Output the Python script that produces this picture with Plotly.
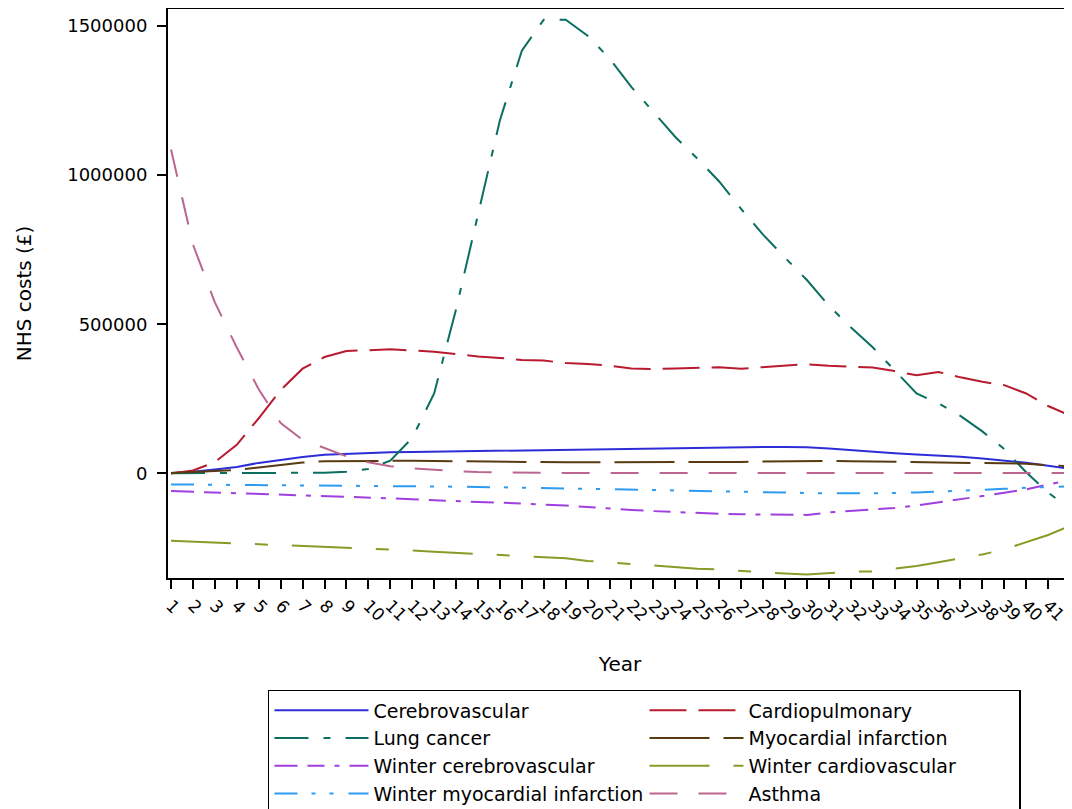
import plotly.graph_objects as go

years = list(range(1, 43))
tick_labels = [str(y) for y in years]

cerebrovascular = [2000, 5500, 13000, 22000, 35500, 46500, 55500, 63000, 66500, 69000,
                   71000, 72000, 73000, 74000, 75000, 76000, 77000, 78000, 79500, 81000,
                   82000, 83000, 84000, 85500, 87000, 88000, 88500, 88500, 88500, 88000,
                   84000, 78000, 73500, 68000, 64000, 61000, 56000, 50000, 44000, 36000,
                   26000, 16000]
cardiopulmonary = [0, 10000, 38000, 96000, 185000, 279000, 351000, 390000, 410000, 412000,
                   416000, 412000, 408000, 400000, 392000, 387000, 380000, 378000, 370000, 367000,
                   361000, 352000, 350000, 352000, 355000, 356000, 351000, 356000, 362000, 366000,
                   361000, 359000, 355000, 343000, 329000, 340000, 322000, 307000, 296000, 268000,
                   226000, 194000]
lung_cancer = [1000, 1000, 1000, 1000, 1000, 1000, 1500, 2500, 6000, 15000,
               43000, 119000, 268000, 550000, 867000, 1183000, 1416000, 1520000, 1520000, 1466000,
               1390000, 1294000, 1211000, 1127000, 1055000, 978000, 886000, 800000, 723000, 648000,
               562000, 490000, 423000, 346000, 268000, 235000, 193000, 141000, 82000, 4000,
               -64000, -118000]
myocardial = [2000, 5500, 7700, 12000, 20000, 29000, 36600, 41000, 42000, 43000,
              44000, 43000, 42000, 41000, 40000, 40000, 39000, 39000, 37600, 37600,
              37600, 37600, 37000, 37000, 37000, 38800, 38800, 40000, 41000, 42000,
              42000, 41000, 40000, 38800, 38800, 37600, 37600, 36500, 35000, 33000,
              28000, 24000]
winter_cerebrovascular = [-58800, -61000, -64000, -66500, -68800, -71000, -73000, -75400, -77600, -81000,
                          -83000, -86500, -90000, -93000, -95500, -97500, -100000, -104000, -107500, -113000,
                          -118000, -122000, -126000, -129500, -133500, -135000, -136500, -137500, -138600, -138600,
                          -130500, -125800, -120900, -115300, -107600, -97500, -86500, -75400, -64300, -53200,
                          -36600, -22200]
winter_cardiovascular = [-225000, -227800, -230500, -233500, -236300, -239500, -243000, -246600, -249300, -251500,
                         -254300, -258000, -262000, -265500, -269300, -271500, -274500, -279000, -284000, -292700,
                         -298300, -302700, -308000, -315000, -318700, -321500, -326500, -330400, -335000, -338000,
                         -332700, -329000, -328000, -319300, -309600, -297500, -284000, -271000, -254300, -231000,
                         -206000, -175000]
winter_mi = [-36600, -37000, -37400, -37800, -38200, -38700, -39200, -39700, -40100, -40500,
             -41400, -42300, -43200, -44100, -45000, -46000, -47000, -48000, -49000, -50000,
             -51000, -53000, -55000, -57000, -58500, -60000, -61500, -63000, -64500, -65500,
             -66500, -66500, -66500, -65500, -63500, -61000, -58000, -55000, -51500, -48000,
             -45000, -43000]
asthma = [1085000, 767000, 573000, 422000, 282000, 169000, 113000, 85000, 57600, 37600,
          24400, 17700, 12000, 7800, 5000, 3500, 2500, 2000, 2000, 2000,
          2000, 2000, 2000, 2000, 2000, 2000, 2000, 2000, 2000, 2000,
          2000, 2000, 2000, 2000, 2000, 2000, 2000, 2000, 2000, 2000,
          2000, 2000]

series = [
    ("Cerebrovascular", cerebrovascular, "#2d2dd8", "solid"),
    ("Cardiopulmonary", cardiopulmonary, "#b81a2e", "37px,12px"),
    ("Lung cancer", lung_cancer, "#0a6e60", "34px,15px,7px,15px"),
    ("Myocardial infarction", myocardial, "#5a3a10", "60px,14px"),
    ("Winter cerebrovascular", winter_cerebrovascular, "#9f3fe0", "23px,10px,17px,10px,5px,10px"),
    ("Winter cardiovascular", winter_cardiovascular, "#8b9a26", "60px,24px,13px,24px"),
    ("Winter myocardial infarction", winter_mi, "#2d9bf0", "23px,14px,4px,14px,4px,15px"),
    ("Asthma", asthma, "#bb6590", "28px,21px"),
]

fig = go.Figure()
for name, vals, color, dash in series:
    fig.add_trace(go.Scatter(x=years, y=vals, mode="lines", name=name,
                             line=dict(color=color, width=2, dash=dash)))

FONT = "DejaVu Sans"
# The page body has an 8px margin, so the figure is sized to the remaining viewport.
fig.update_layout(
    width=1064, height=801,
    template="none",
    paper_bgcolor="white", plot_bgcolor="white",
    margin=dict(l=160, r=0, t=1, b=231, pad=0, autoexpand=False),
    font=dict(family=FONT, color="black", size=17),
    showlegend=True,
    legend=dict(
        orientation="h", x=0.1106, xanchor="left", y=-0.1968, yanchor="top",
        entrywidth=266, entrywidthmode="pixels",
        font=dict(family=FONT, size=19, color="black"),
        bordercolor="black", borderwidth=1.5, bgcolor="white",
        itemwidth=94, traceorder="normal",
    ),
    xaxis=dict(
        range=[0.863, 42.09], tickmode="array", tickvals=years, ticktext=tick_labels,
        tickangle=45, ticks="outside", ticklen=9, tickwidth=1.5, tickcolor="black",
        ticklabeloverflow="allow",
        showline=True, linecolor="black", linewidth=2, mirror=True,
        showgrid=False, zeroline=False, automargin=False,
        tickfont=dict(family=FONT, size=17, color="black"),
        title=dict(text="Year", font=dict(family=FONT, size=20, color="black"), standoff=33),
    ),
    yaxis=dict(
        range=[-350000, 1555600], tickmode="array",
        tickvals=[0, 500000, 1000000, 1500000],
        ticktext=["0", "500000", "1000000", "1500000"],
        ticks="outside", ticklen=9, tickwidth=1.5, tickcolor="black",
        ticklabelstandoff=6,
        showline=True, linecolor="black", linewidth=2,
        showgrid=False, zeroline=False, automargin=False,
        tickfont=dict(family=FONT, size=18, color="black"),
        title=dict(text="NHS costs (£)", font=dict(family=FONT, size=20, color="black"), standoff=30),
    ),
)

fig.write_html("out.html")
